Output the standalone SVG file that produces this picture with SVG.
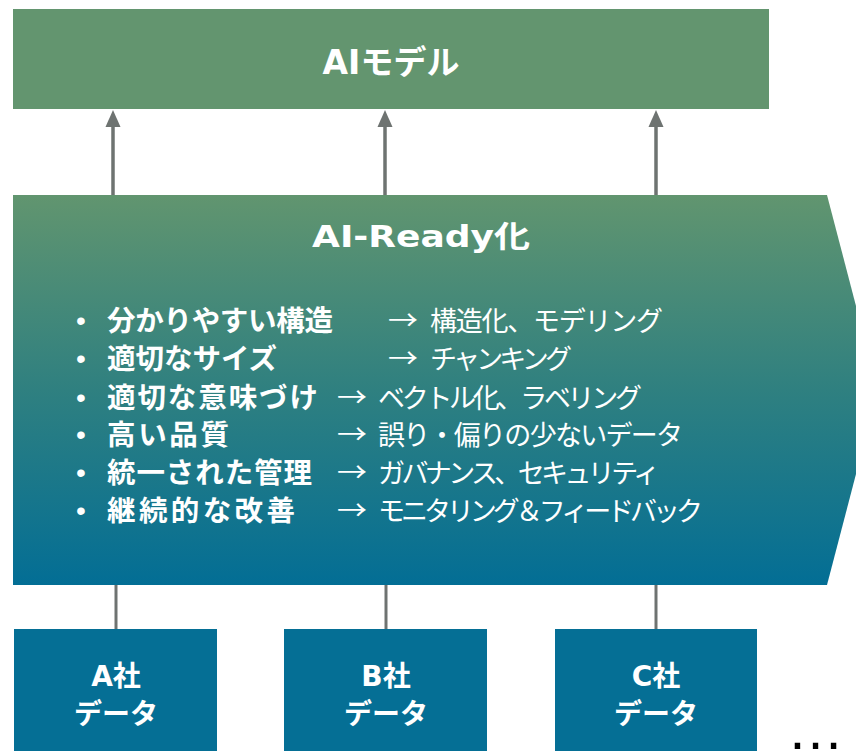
<svg xmlns="http://www.w3.org/2000/svg" width="856" height="751" viewBox="0 0 856 751">
<defs>
<linearGradient id="g" x1="0" y1="0" x2="0" y2="1">
<stop offset="0" stop-color="#61956f"/>
<stop offset="0.5" stop-color="#2f8080"/>
<stop offset="1" stop-color="#036e95"/>
</linearGradient>
<marker id="ah" markerWidth="17" markerHeight="16" viewBox="0 0 17 16" refX="0" refY="8" orient="auto" markerUnits="userSpaceOnUse">
<path d="M0 0.5 L17 8 L0 15.5 Z" fill="#6e7371"/>
</marker>
<style>
.box{fill:#056f95}
.lbl{font-family:"DejaVu Sans","Noto Sans CJK JP",sans-serif;font-weight:bold;fill:#fff;text-anchor:middle}
.b{font-family:"Noto Sans CJK JP",sans-serif;font-weight:bold;fill:#fff;font-size:28.5px}
.r{font-family:"Noto Sans CJK JP",sans-serif;font-weight:400;fill:#fff;font-size:27px}
.ar{font-family:"Noto Sans CJK JP",sans-serif;font-weight:400;fill:#fff;font-size:27px}
.dot{font-family:"Liberation Sans",sans-serif;fill:#fff;font-size:28px;text-anchor:middle}
.c{stroke:#6e7371;fill:none}
</style>
</defs>
<g id="connectors">
<line class="c" x1="113" y1="195" x2="113" y2="127" stroke-width="3.5" marker-end="url(#ah)"/>
<line class="c" x1="385" y1="195" x2="385" y2="127" stroke-width="3.5" marker-end="url(#ah)"/>
<line class="c" x1="656" y1="195" x2="656" y2="127" stroke-width="3.5" marker-end="url(#ah)"/>
<line class="c" x1="116" y1="585" x2="116" y2="630" stroke-width="3"/>
<line class="c" x1="386" y1="585" x2="386" y2="630" stroke-width="3"/>
<line class="c" x1="656" y1="585" x2="656" y2="630" stroke-width="3"/>
</g>
<g id="ai-model">
<rect x="13" y="9" width="756" height="100" fill="#63956f"/>
<text class="lbl" x="391" y="74" font-size="33">AIモデル</text>
</g>
<g id="ai-ready">
<polygon points="13,195 827,195 878,390 827,585 13,585" fill="url(#g)"/>
<text class="lbl" x="421" y="247" font-size="30" textLength="218" lengthAdjust="spacingAndGlyphs">AI-Ready化</text>
<text class="dot" x="81" y="330">•</text>
<text class="dot" x="81" y="368">•</text>
<text class="dot" x="81" y="407">•</text>
<text class="dot" x="81" y="444">•</text>
<text class="dot" x="81" y="482">•</text>
<text class="dot" x="81" y="520">•</text>
<text class="b" x="107" y="331" textLength="226">分かりやすい構造</text>
<text class="b" x="107" y="369" textLength="170">適切なサイズ</text>
<text class="b" x="107" y="408" textLength="211">適切な意味づけ</text>
<text class="b" x="107" y="445" textLength="122">高い品質</text>
<text class="b" x="107" y="483" textLength="205">統一された管理</text>
<text class="b" x="107" y="521" textLength="188">継続的な改善</text>
<text class="ar" x="388" y="330" textLength="30" lengthAdjust="spacingAndGlyphs">→</text>
<text class="ar" x="388" y="368" textLength="30" lengthAdjust="spacingAndGlyphs">→</text>
<text class="ar" x="337" y="407" textLength="30" lengthAdjust="spacingAndGlyphs">→</text>
<text class="ar" x="337" y="444" textLength="30" lengthAdjust="spacingAndGlyphs">→</text>
<text class="ar" x="337" y="482" textLength="30" lengthAdjust="spacingAndGlyphs">→</text>
<text class="ar" x="337" y="520" textLength="30" lengthAdjust="spacingAndGlyphs">→</text>
<text class="r" x="430" y="331" textLength="233">構造化、モデリング</text>
<text class="r" x="430" y="369" textLength="142">チャンキング</text>
<text class="r" x="378" y="408" textLength="264">ベクトル化、ラベリング</text>
<text class="r" x="378" y="445" textLength="305">誤り・偏りの少ないデータ</text>
<text class="r" x="378" y="483" textLength="282">ガバナンス、セキュリティ</text>
<text class="r" x="378" y="521" textLength="325">モニタリング＆フィードバック</text>
</g>
<g id="company-a">
<rect class="box" x="14" y="629" width="203" height="130"/>
<text class="lbl" x="116" y="686" font-size="28">A社</text>
<text class="lbl" x="116" y="724" font-size="28">データ</text>
</g>
<g id="company-b">
<rect class="box" x="284" y="629" width="203" height="130"/>
<text class="lbl" x="386" y="686" font-size="28">B社</text>
<text class="lbl" x="386" y="724" font-size="28">データ</text>
</g>
<g id="company-c">
<rect class="box" x="555" y="629" width="202" height="130"/>
<text class="lbl" x="656" y="686" font-size="28">C社</text>
<text class="lbl" x="656" y="724" font-size="28">データ</text>
</g>
<text x="787" y="749" font-family="Liberation Sans, sans-serif" font-size="57" fill="#000">…</text>
</svg>
